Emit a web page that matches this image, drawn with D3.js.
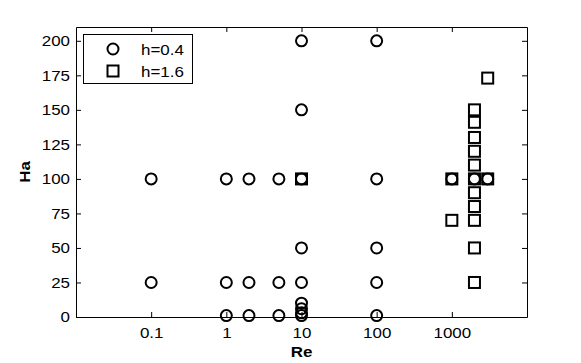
<!DOCTYPE html>
<html>
<head>
<meta charset="utf-8">
<script src="https://cdn.jsdelivr.net/npm/d3@7"></script>
<style>
  body { margin: 0; background: #fff; }
  svg { display: block; font-family: "Liberation Sans", Arial, sans-serif; }
  .axis path, .axis line { stroke: #000; stroke-width: 1; }
  .axis text { font-size: 15px; fill: #000; }
</style>
</head>
<body>
<div id="vis"></div>
<script>
// h=0.4 series (circles)
var re04 = [0.1, 0.1, 1, 1, 1, 2, 2, 2, 5, 5, 5, 10, 10, 10, 10, 10, 10, 10, 10, 10, 100, 100, 100, 100, 100, 1000, 2000, 3000];
var ha04 = [100, 25, 100, 25, 1, 100, 25, 1, 100, 25, 1, 200, 150, 100, 50, 25, 10, 6, 3, 1, 200, 100, 50, 25, 1, 100, 100, 100];
// h=1.6 series (squares)
var re16 = [10, 1000, 1000, 2000, 2000, 2000, 2000, 2000, 2000, 2000, 2000, 2000, 2000, 2000, 3000, 3000];
var ha16 = [100, 100, 70, 150, 141, 130, 120, 110, 100, 90, 80, 70, 50, 25, 173, 100];

var xTicks = [0.1, 1, 10, 100, 1000];
var yTicks = [0, 25, 50, 75, 100, 125, 150, 175, 200];
var legendLabels = ["h=0.4", "h=1.6"];

var w = 581, h = 363;
var pLeft = 76, pTop = 27, pRight = 527, pBottom = 317;

var svg = d3.select("#vis").append("svg")
  .attr("width", w)
  .attr("height", h);

var x = d3.scaleLog().domain([0.01, 10000]).range([pLeft, pRight]);
var y = d3.scaleLinear().domain([0, 210]).range([pBottom, pTop]);

//axes, ticks point inward
svg.append("g").attr("class", "axis")
  .attr("transform", "translate(0," + pBottom + ")")
  .call(d3.axisBottom(x).tickValues(xTicks).tickFormat(d3.format("~g")).tickSizeInner(-5).tickSizeOuter(0).tickPadding(10));
svg.append("g").attr("class", "axis")
  .attr("transform", "translate(0," + pTop + ")")
  .call(d3.axisTop(x).tickValues(xTicks).tickFormat("").tickSizeInner(-5).tickSizeOuter(0));
svg.append("g").attr("class", "axis")
  .attr("transform", "translate(" + pLeft + ",0)")
  .call(d3.axisLeft(y).tickValues(yTicks).tickSizeInner(-5).tickSizeOuter(0).tickPadding(6));
svg.append("g").attr("class", "axis")
  .attr("transform", "translate(" + pRight + ",0)")
  .call(d3.axisRight(y).tickValues(yTicks).tickFormat("").tickSizeInner(-5).tickSizeOuter(0));

//axis titles
svg.append("text")
  .attr("x", (pLeft + pRight) / 2)
  .attr("y", 357)
  .attr("text-anchor", "middle")
  .style("font-size", "15px")
  .style("font-weight", "bold")
  .text("Re");
svg.append("text")
  .attr("transform", "translate(30," + (pTop + pBottom) / 2 + ") rotate(-90)")
  .attr("text-anchor", "middle")
  .style("font-size", "15px")
  .style("font-weight", "bold")
  .text("Ha");

//markers
svg.selectAll("circle.h04")
  .data(d3.range(re04.length))
  .enter()
  .append("circle")
  .attr("class", "h04")
  .attr("cx", function(i) { return x(re04[i]); })
  .attr("cy", function(i) { return y(ha04[i]); })
  .attr("r", 5.5)
  .attr("fill", "none")
  .attr("stroke", "#000")
  .attr("stroke-width", 2);

var s = 11;
svg.selectAll("rect.h16")
  .data(d3.range(re16.length))
  .enter()
  .append("rect")
  .attr("class", "h16")
  .attr("x", function(i) { return x(re16[i]) - s / 2; })
  .attr("y", function(i) { return y(ha16[i]) - s / 2; })
  .attr("width", s)
  .attr("height", s)
  .attr("fill", "none")
  .attr("stroke", "#000")
  .attr("stroke-width", 2);

//legend
var lg = svg.append("g");
lg.append("rect")
  .attr("x", 83.5).attr("y", 34.5)
  .attr("width", 109).attr("height", 49)
  .attr("fill", "#fff").attr("stroke", "#000").attr("stroke-width", 1);
lg.append("circle")
  .attr("cx", 113).attr("cy", 49).attr("r", 5.5)
  .attr("fill", "none").attr("stroke", "#000").attr("stroke-width", 2);
lg.append("rect")
  .attr("x", 113 - s / 2).attr("y", 71 - s / 2).attr("width", s).attr("height", s)
  .attr("fill", "none").attr("stroke", "#000").attr("stroke-width", 2);
lg.selectAll("text")
  .data(legendLabels)
  .enter()
  .append("text")
  .attr("x", 141)
  .attr("y", function(d, i) { return 54.5 + i * 22; })
  .style("font-size", "15px")
  .text(function(d) { return d; });

//the original lettering is a bit wider than Liberation Sans, stretch it
svg.selectAll("text").each(function() {
  var len = this.getComputedTextLength();
  if (len > 0) {
    d3.select(this).attr("textLength", len * 1.13).attr("lengthAdjust", "spacingAndGlyphs");
  }
});
</script>
</body>
</html>
